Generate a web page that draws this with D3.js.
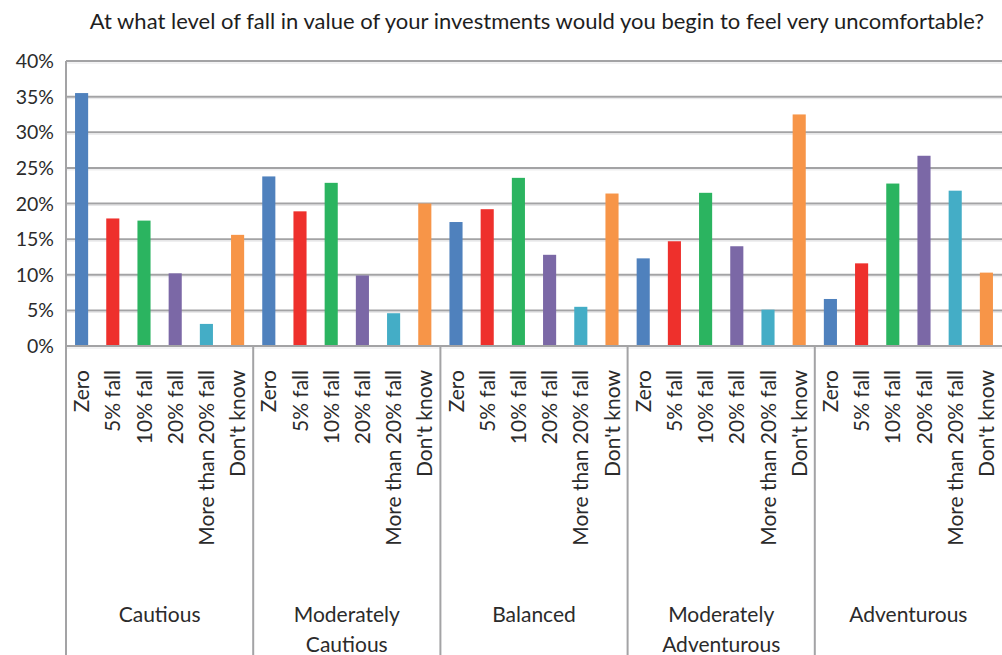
<!DOCTYPE html>
<html><head><meta charset="utf-8">
<script src="https://cdn.jsdelivr.net/npm/d3@7"></script>
<style>
body{margin:0;background:#fff;}
svg{display:block;font-family:Lato,"Open Sans",sans-serif;}
</style></head>
<body><svg id="chart" width="1002" height="655"></svg>
<script>
const title = "At what level of fall in value of your investments would you begin to feel very uncomfortable?";
const groups = ["Cautious", "Moderately Cautious", "Balanced", "Moderately Adventurous", "Adventurous"];
const groupLines = [["Cautious"], ["Moderately", "Cautious"], ["Balanced"], ["Moderately", "Adventurous"], ["Adventurous"]];
const answers = ["Zero", "5% fall", "10% fall", "20% fall", "More than 20% fall", "Don't know"];
const colors = ["#4f81bd", "#ee302c", "#2bb460", "#7b68a6", "#44adc6", "#f79548"];
const cautious = [35.5, 17.9, 17.6, 10.2, 3.1, 15.6];
const modCautious = [23.8, 18.9, 22.9, 9.9, 4.6, 20.0];
const balanced = [17.4, 19.2, 23.6, 12.8, 5.5, 21.4];
const modAdventurous = [12.3, 14.7, 21.5, 14.0, 5.1, 32.5];
const adventurous = [6.6, 11.6, 22.8, 26.7, 21.8, 10.3];
const yTicks = [0, 5, 10, 15, 20, 25, 30, 35, 40];

const values = [cautious, modCautious, balanced, modAdventurous, adventurous];
const svg = d3.select("#chart");
const plotLeft = 66, plotRight = 1002, plotTop = 61, plotBase = 346;

const x0 = d3.scaleBand().domain(groups).range([plotLeft, plotRight]).padding(0);
const x1 = d3.scaleBand().domain(answers).range([0, x0.bandwidth()]).paddingInner(0.58).paddingOuter(0.29);
const y = d3.scaleLinear().domain([0, 40]).range([plotBase, plotTop]);

// gridlines
svg.append("g").selectAll("line").data(yTicks).join("line")
  .attr("x1", plotLeft).attr("x2", plotRight)
  .attr("y1", d => y(d)).attr("y2", d => y(d))
  .attr("stroke", "#a3a3a5").attr("stroke-width", 2);
svg.append("g").selectAll("line").data(yTicks).join("line")
  .attr("x1", plotLeft).attr("x2", plotRight)
  .attr("y1", d => y(d) + 2).attr("y2", d => y(d) + 2)
  .attr("stroke", "#e6e6e8").attr("stroke-width", 1);

// y labels
svg.append("g").selectAll("text").data(yTicks).join("text")
  .attr("x", 54).attr("y", d => y(d)).attr("dy", "0.36em")
  .attr("text-anchor", "end").attr("font-size", 19.5).attr("fill", "#2b2b2b")
  .text(d => d + "%");

// bars
const g = svg.append("g").selectAll("g").data(groups).join("g")
  .attr("transform", d => `translate(${x0(d)},0)`);
g.selectAll("rect").data((d, i) => values[i].map((v, j) => ({a: answers[j], v, c: colors[j]}))).join("rect")
  .attr("x", d => x1(d.a)).attr("width", x1.bandwidth())
  .attr("y", d => y(d.v)).attr("height", d => plotBase - y(d.v))
  .attr("fill", d => d.c);

// axis lines
svg.append("line").attr("x1", plotLeft).attr("x2", plotLeft).attr("y1", plotTop).attr("y2", 655)
  .attr("stroke", "#a3a3a5").attr("stroke-width", 2);
svg.append("g").selectAll("line").data(groups.slice(1)).join("line")
  .attr("x1", d => x0(d)).attr("x2", d => x0(d)).attr("y1", plotBase).attr("y2", 655)
  .attr("stroke", "#a3a3a5").attr("stroke-width", 2);
svg.append("line").attr("x1", plotLeft).attr("x2", plotRight).attr("y1", plotBase).attr("y2", plotBase)
  .attr("stroke", "#a3a3a5").attr("stroke-width", 2);

// rotated answer labels
g.selectAll("text.ans").data(answers).join("text").attr("class", "ans")
  .attr("transform", d => `translate(${x1(d) + x1.bandwidth() / 2},370) rotate(-90)`)
  .attr("dy", "0.36em").attr("text-anchor", "end")
  .attr("font-size", 21).attr("fill", "#2b2b2b").text(d => d);

// group labels
g.each(function(d, i) {
  d3.select(this).selectAll("text.grp").data(groupLines[i]).join("text").attr("class", "grp")
    .attr("x", x0.bandwidth() / 2).attr("y", (t, k) => 622 + k * 30)
    .attr("text-anchor", "middle").attr("font-size", 21).attr("fill", "#2b2b2b").text(t => t);
});

// title
svg.append("text").attr("x", 537).attr("y", 29).attr("text-anchor", "middle")
  .attr("font-size", 22).attr("fill", "#1e1e1e").text(title);
</script></body></html>
